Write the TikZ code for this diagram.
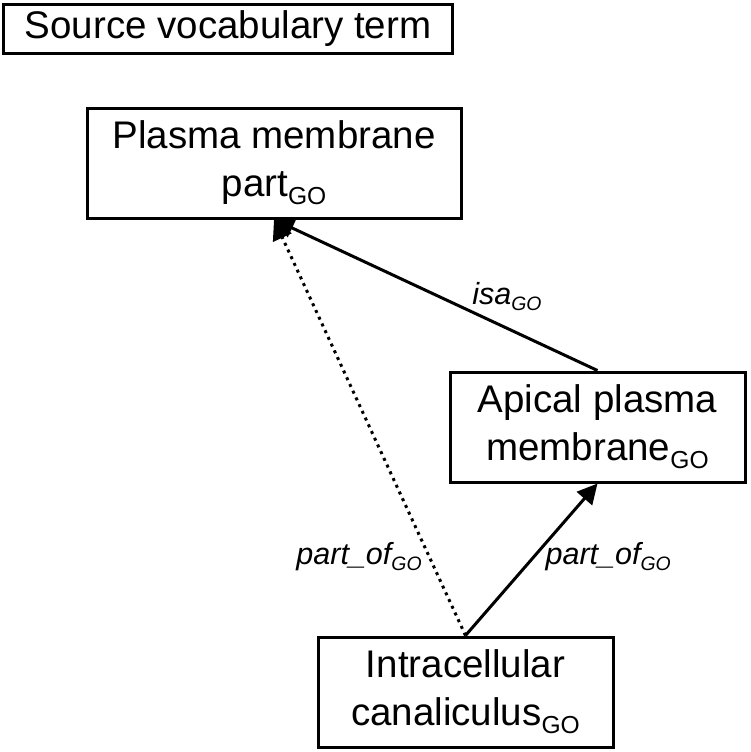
\documentclass[tikz,border=0pt]{standalone}
\usepackage{fontspec}
\setmainfont{Liberation Sans}
\usetikzlibrary{arrows.meta,positioning}

\newcommand{\boxgo}{\raisebox{-4pt}{\fontsize{12.3}{14}\selectfont GO}}
\newcommand{\relgo}{\raisebox{-3pt}{\fontsize{9.7}{12}\selectfont GO}}

\tikzset{
    term/.style={draw, line width=1.5pt, align=center, inner sep=0pt,
        font=\fontsize{19.25}{24}\selectfont},
    rel/.style={font=\fontsize{15.25}{18}\selectfont\itshape, inner sep=0pt},
    link/.style={line width=1.5pt, -{Triangle[length=10pt,width=10pt]}}
}

\begin{document}
\begin{tikzpicture}[x=0.5pt, y=-0.5pt]
            \useasboundingbox (0,0) rectangle (751,752);

            \node[term, minimum width=224pt, minimum height=24.5pt] (src) at (228, 28.5) {Source vocabulary term};

            \node[term, minimum width=187pt, minimum height=55pt] (pm)  at (274, 163)   {Plasma membrane\\part\boxgo};
            \node[term, minimum width=147.5pt, minimum height=55pt] (apm) at (597.5, 427) {Apical plasma\\membrane\boxgo};
            \node[term, minimum width=147.5pt, minimum height=55pt] (ic)  at (465.5, 692) {Intracellular\\canaliculus\boxgo};

            \draw[link] (apm.north) -- (pm.south)
                node [rel, above=8pt, pos=0.28] (isa) {isa\relgo};
            \draw[link, dash pattern=on 1.5pt off 2.2pt] (ic.north) -- (pm.south)
                node [rel, left=3pt, pos=0.19] (ptl) {part\_of\relgo};
            \draw[link] (ic.north) -- (apm.south)
                node [rel, right=5pt, pos=0.52] (ptr) {part\_of\relgo};
        \end{tikzpicture}
\end{document}
